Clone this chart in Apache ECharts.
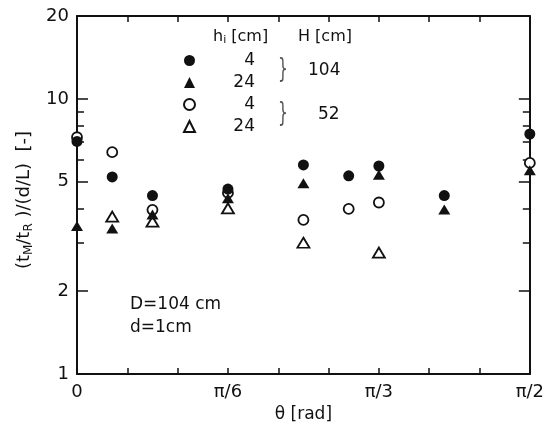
<!DOCTYPE html>
<html>
<head>
<meta charset="utf-8">
<script src="https://cdn.jsdelivr.net/npm/echarts@6/dist/echarts.min.js"></script>
<style>
  html, body { margin: 0; padding: 0; background: #fff; }
  #chart { width: 547px; height: 430px; }
</style>
</head>
<body>
<div id="chart"></div>
<script>
// theta in degrees (axis labelled in radians), values (tM/tR)/(d/L)
const fcTheta = [0, 7, 15, 30, 45, 54, 60, 73, 90];
const fcValue = [7.0, 5.2, 4.45, 4.7, 5.75, 5.25, 5.7, 4.45, 7.45];
const ftTheta = [0, 7, 15, 30, 45, 60, 73, 90];
const ftValue = [3.45, 3.38, 3.8, 4.35, 4.93, 5.3, 3.96, 5.5];
const ocTheta = [0, 7, 15, 30, 45, 54, 60, 90];
const ocValue = [7.25, 6.4, 3.95, 4.55, 3.63, 3.98, 4.2, 5.85];
const otTheta = [7, 15, 30, 45, 60];
const otValue = [3.73, 3.58, 4.0, 3.0, 2.76];

const xLabels = { 0: "0", 30: "π/6", 60: "π/3", 90: "π/2" };
const yMajor = [1, 2, 5, 10, 20];
const yMinor = [3, 4, 6, 7, 8, 9];
const legendHi = { fc: "4", ft: "24", oc: "4", ot: "24" };

const font = "DejaVu Sans";
const ink = "#111";

function pairs(xs, ys) {
  return xs.map((x, i) => [x, ys[i]]);
}

function xAxisDef(pos, labels) {
  return {
    type: "value",
    position: pos,
    min: 0,
    max: 90,
    interval: 10,
    axisLine: { show: true, lineStyle: { color: ink, width: 2 } },
    axisTick: { show: true, inside: true, length: 6, lineStyle: { color: ink, width: 1.5 } },
    axisLabel: {
      show: labels,
      margin: 9,
      color: ink,
      fontFamily: font,
      fontSize: 18,
      formatter: v => (xLabels[v] !== undefined ? xLabels[v] : "")
    },
    splitLine: { show: false }
  };
}

function yAxisDef(pos, ticks, len, labels, line) {
  return {
    type: "log",
    logBase: 10,
    position: pos,
    min: 1,
    max: 20,
    axisLine: { show: line, lineStyle: { color: ink, width: 2 } },
    axisTick: {
      show: true,
      inside: true,
      length: len,
      customValues: ticks,
      lineStyle: { color: ink, width: 1.5 }
    },
    axisLabel: {
      show: labels,
      customValues: yMajor,
      margin: 8,
      color: ink,
      fontFamily: font,
      fontSize: 18,
      formatter: v => String(Math.round(v))
    },
    splitLine: { show: false },
    minorTick: { show: false }
  };
}

const filledStyle = { color: ink, opacity: 1 };
const openStyle = { color: "#fff", borderColor: ink, borderWidth: 1.8, opacity: 1 };

const chart = echarts.init(document.getElementById("chart"));
chart.setOption({
  animation: false,
  backgroundColor: "#fff",
  grid: { left: 77, right: 16, top: 16, bottom: 56 },
  xAxis: [
    Object.assign(xAxisDef("bottom", true), {
      name: "θ [rad]",
      nameLocation: "middle",
      nameGap: 27,
      nameTextStyle: { color: ink, fontFamily: font, fontSize: 17 }
    }),
    xAxisDef("top", false)
  ],
  yAxis: [
    yAxisDef("left", yMajor, 11, true, true),
    yAxisDef("left", yMinor, 7, false, false),
    yAxisDef("right", yMajor, 11, false, true),
    yAxisDef("right", yMinor, 7, false, false)
  ],
  legend: {
    data: ["fc", "ft", "oc", "ot"],
    orient: "vertical",
    left: 178,
    top: 47,
    itemWidth: 11,
    itemHeight: 11,
    itemGap: 5,
    selectedMode: false,
    formatter: n => "{n|" + legendHi[n] + "}",
    textStyle: {
      color: ink,
      fontFamily: font,
      fontSize: 17,
      rich: { n: { width: 55, align: "right", fontFamily: font, fontSize: 17, color: ink } }
    }
  },
  series: [
    { name: "oc", type: "scatter", symbol: "circle", symbolSize: 10, itemStyle: openStyle, data: pairs(ocTheta, ocValue) },
    { name: "ot", type: "scatter", symbol: "triangle", symbolSize: [12, 10], itemStyle: openStyle, data: pairs(otTheta, otValue) },
    { name: "ft", type: "scatter", symbol: "triangle", symbolSize: [12, 10], itemStyle: filledStyle, data: pairs(ftTheta, ftValue) },
    { name: "fc", type: "scatter", symbol: "circle", symbolSize: 11, itemStyle: filledStyle, data: pairs(fcTheta, fcValue) }
  ],
  graphic: [
    {
      type: "text", x: 24, y: 200, rotation: Math.PI / 2,
      style: {
        text: "(t{s|M}/t{s|R} )/(d/L)  [-]",
        align: "center", verticalAlign: "middle",
        fill: ink, font: "18px " + font,
        rich: { s: { fontSize: 12, fontFamily: font, fill: ink, padding: [9, 0, 0, 0] } }
      }
    },
    {
      type: "text", x: 213, y: 37,
      style: {
        text: "h{s|i} [cm]", verticalAlign: "middle", fill: ink, font: "16px " + font,
        rich: { s: { fontSize: 11, fontFamily: font, fill: ink, padding: [7, 0, 0, 0] } }
      }
    },
    { type: "text", x: 298, y: 37, style: { text: "H [cm]", verticalAlign: "middle", fill: ink, font: "16px " + font } },
    { type: "text", x: 283, y: 70, scaleX: 0.6, style: { text: "}", align: "center", verticalAlign: "middle", fill: "#555", font: "26px " + font } },
    { type: "text", x: 283, y: 114, scaleX: 0.6, style: { text: "}", align: "center", verticalAlign: "middle", fill: "#555", font: "26px " + font } },
    { type: "text", x: 308, y: 71, style: { text: "104", verticalAlign: "middle", fill: ink, font: "17px " + font } },
    { type: "text", x: 318, y: 115, style: { text: "52", verticalAlign: "middle", fill: ink, font: "17px " + font } },
    { type: "text", x: 130, y: 305, style: { text: "D=104 cm", verticalAlign: "middle", fill: ink, font: "17px " + font } },
    { type: "text", x: 130, y: 328, style: { text: "d=1cm", verticalAlign: "middle", fill: ink, font: "17px " + font } }
  ]
});
</script>
</body>
</html>
